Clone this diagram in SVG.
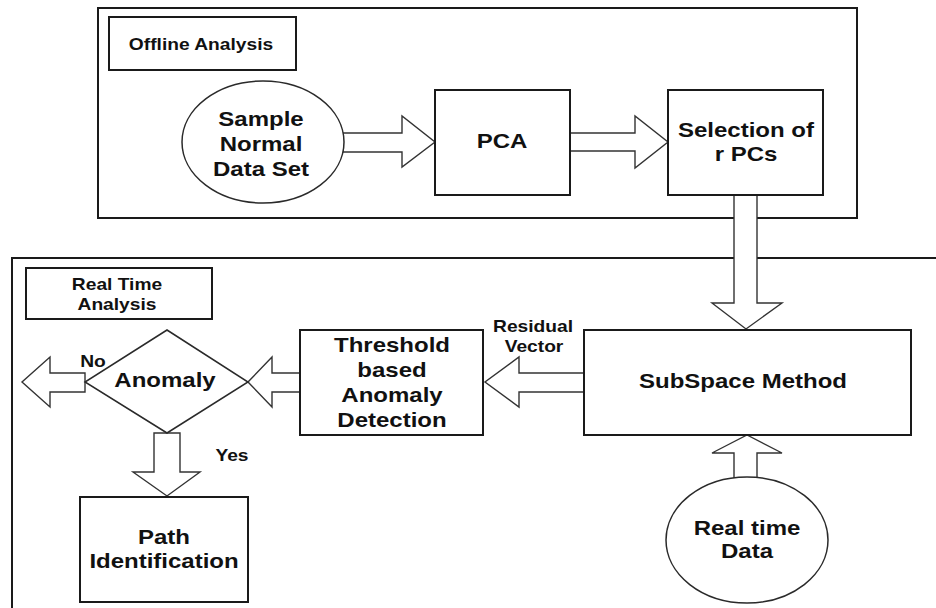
<svg xmlns="http://www.w3.org/2000/svg" width="936" height="608" viewBox="0 0 936 608">
  <defs>
    <style>
      .frame { fill: none; stroke: #1a1a1a; stroke-width: 2; }
      .box { fill: #fff; stroke: #1a1a1a; stroke-width: 2; }
      .oval { fill: #fff; stroke: #2a2a2a; stroke-width: 1.5; }
      .diamond { fill: #fff; stroke: #2a2a2a; stroke-width: 1.5; }
      .arrow { fill: #fff; stroke: #333; stroke-width: 1.4; stroke-linejoin: miter; }
      text { font-family: "Liberation Sans", Arial, sans-serif; font-weight: bold; fill: #111; text-anchor: middle; }
      .big { font-size: 20px; }
      .small { font-size: 16px; }
    </style>
  </defs>

  <rect width="936" height="608" fill="#fff"/>

  <!-- section frames -->
  <g id="offline-frame">
    <rect class="frame" x="98" y="8" width="759" height="210"/>
    <rect class="box" x="109" y="17" width="187" height="53"/>
    <text class="small" transform="translate(201 50) scale(1.2 1)">Offline Analysis</text>
  </g>
  <g id="realtime-frame">
    <path class="frame" d="M12 608 V258 H936"/>
    <rect class="box" x="26" y="268" width="186" height="51"/>
    <text class="small" transform="translate(117 290) scale(1.2 1)">Real Time</text>
    <text class="small" transform="translate(117 310) scale(1.2 1)">Analysis</text>
  </g>

  <!-- block arrows -->
  <g id="connectors">
    <!-- sample data -> PCA -->
    <polygon class="arrow" points="343,133 402,133 402,116 435,142 402,167 402,152 343,152"/>
    <!-- PCA -> selection -->
    <polygon class="arrow" points="570,133 635,133 635,116 668,142 635,168 635,151 570,151"/>
    <!-- selection -> subspace -->
    <polygon class="arrow" points="734,195 734,303 712,303 746,329 782,303 757,303 757,195"/>
    <!-- subspace -> threshold -->
    <polygon class="arrow" points="584,373 519,373 519,357 485,382 519,407 519,392 584,392"/>
    <text class="small" transform="translate(533 332) scale(1.2 1)">Residual</text>
    <text class="small" transform="translate(534 352) scale(1.2 1)">Vector</text>
    <!-- threshold -> anomaly -->
    <polygon class="arrow" points="300,373 272,373 272,357 248,382 272,407 272,392 300,392"/>
    <!-- anomaly -> no -->
    <polygon class="arrow" points="85,373 50,373 50,357 22,382 50,407 50,392 85,392"/>
    <text class="small" transform="translate(93 367) scale(1.2 1)">No</text>
    <!-- anomaly -> path identification -->
    <polygon class="arrow" points="154,433 154,472 133,472 167,496 200,472 180,472 180,433"/>
    <text class="small" transform="translate(232 461) scale(1.2 1)">Yes</text>
    <!-- real time data -> subspace -->
    <polygon class="arrow" points="734,478 734,453 712,453 747,435 782,453 757,453 757,478"/>
  </g>

  <!-- nodes -->
  <g id="sample-data">
    <ellipse class="oval" cx="263" cy="142" rx="81" ry="61"/>
    <text class="big" transform="translate(261 126) scale(1.2 1)">Sample</text>
    <text class="big" transform="translate(261 151) scale(1.2 1)">Normal</text>
    <text class="big" transform="translate(261 176) scale(1.2 1)">Data Set</text>
  </g>
  <g id="pca">
    <rect class="box" x="435" y="90" width="135" height="105"/>
    <text class="big" transform="translate(502 148) scale(1.2 1)">PCA</text>
  </g>
  <g id="selection">
    <rect class="box" x="668" y="90" width="155" height="105"/>
    <text class="big" transform="translate(746 137) scale(1.2 1)">Selection of</text>
    <text class="big" transform="translate(746 161) scale(1.2 1)">r PCs</text>
  </g>
  <g id="subspace">
    <rect class="box" x="584" y="330" width="327" height="105"/>
    <text class="big" transform="translate(743 388) scale(1.2 1)">SubSpace Method</text>
  </g>
  <g id="threshold">
    <rect class="box" x="300" y="330" width="183" height="105"/>
    <text class="big" transform="translate(392 352) scale(1.2 1)">Threshold</text>
    <text class="big" transform="translate(392 377) scale(1.2 1)">based</text>
    <text class="big" transform="translate(392 402) scale(1.2 1)">Anomaly</text>
    <text class="big" transform="translate(392 427) scale(1.2 1)">Detection</text>
  </g>
  <g id="anomaly">
    <polygon class="diamond" points="167,330 248,382 167,433 85,382"/>
    <text class="big" transform="translate(165 387) scale(1.2 1)">Anomaly</text>
  </g>
  <g id="path-identification">
    <rect class="box" x="80" y="497" width="168" height="105"/>
    <text class="big" transform="translate(164 544) scale(1.2 1)">Path</text>
    <text class="big" transform="translate(164 568) scale(1.2 1)">Identification</text>
  </g>
  <g id="realtime-data">
    <ellipse class="oval" cx="747" cy="540" rx="81" ry="63"/>
    <text class="big" transform="translate(747 535) scale(1.2 1)">Real time</text>
    <text class="big" transform="translate(747 558) scale(1.2 1)">Data</text>
  </g>
</svg>
